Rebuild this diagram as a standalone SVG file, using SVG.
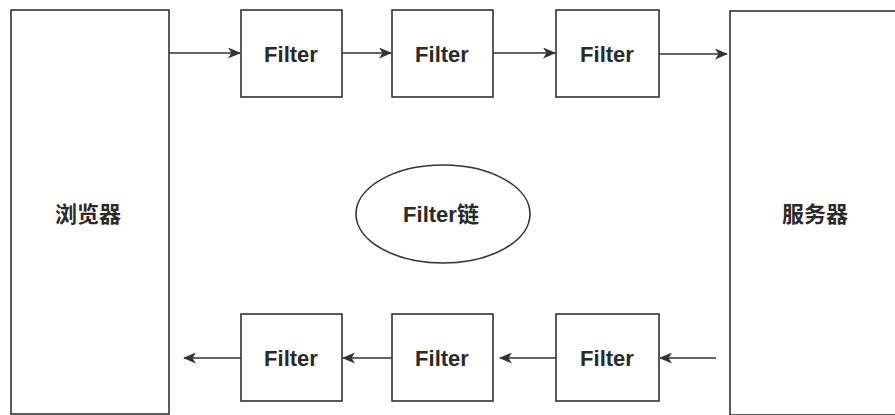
<svg xmlns="http://www.w3.org/2000/svg" width="895" height="415" viewBox="0 0 895 415">
<style>
.box{fill:#fff;stroke:#333;stroke-width:1.6}
.lbl{font-family:"Liberation Sans","Noto Sans CJK SC",sans-serif;font-weight:bold;font-size:22px;fill:#2a2a2a;text-anchor:middle;dominant-baseline:central}
.conn{stroke:#333;stroke-width:1.6;fill:none;marker-end:url(#ah)}
</style>
<defs>
<marker id="ah" viewBox="0 0 13 11" refX="12" refY="5.5" markerWidth="13" markerHeight="11" markerUnits="userSpaceOnUse" orient="auto">
<path d="M0,0 L13,5.5 L0,11 L3.5,5.5 Z" fill="#333"/>
</marker>
</defs>
<rect width="895" height="415" fill="#fff"/>
<g id="browser"><rect class="box" x="11" y="10" width="158" height="404"/><text class="lbl" x="88" y="214">浏览器</text></g>
<g id="server"><rect class="box" x="730" y="11" width="170" height="404"/><text class="lbl" x="815" y="214">服务器</text></g>
<g id="f1"><rect class="box" x="241" y="10" width="101" height="87"/><text class="lbl" x="291" y="54">Filter</text></g>
<g id="f2"><rect class="box" x="392" y="10" width="101" height="87"/><text class="lbl" x="442" y="54">Filter</text></g>
<g id="f3"><rect class="box" x="556" y="10" width="103" height="87"/><text class="lbl" x="607" y="54">Filter</text></g>
<g id="f4"><rect class="box" x="241" y="314" width="101" height="87"/><text class="lbl" x="291" y="358">Filter</text></g>
<g id="f5"><rect class="box" x="392" y="314" width="101" height="87"/><text class="lbl" x="442" y="358">Filter</text></g>
<g id="f6"><rect class="box" x="556" y="314" width="103" height="87"/><text class="lbl" x="607" y="358">Filter</text></g>
<g id="chain"><ellipse class="box" cx="443" cy="214" rx="87" ry="49"/><text class="lbl" x="441" y="214">Filter链</text></g>
<g id="connectors">
<line class="conn" x1="169" y1="53" x2="240" y2="53"/>
<line class="conn" x1="342" y1="53" x2="391" y2="53"/>
<line class="conn" x1="493" y1="53" x2="555" y2="53"/>
<line class="conn" x1="659" y1="54" x2="727" y2="54"/>
<line class="conn" x1="716" y1="358" x2="660" y2="358"/>
<line class="conn" x1="556" y1="358" x2="500" y2="358"/>
<line class="conn" x1="392" y1="358" x2="343" y2="358"/>
<line class="conn" x1="241" y1="358" x2="184" y2="358"/>
</g>
</svg>
